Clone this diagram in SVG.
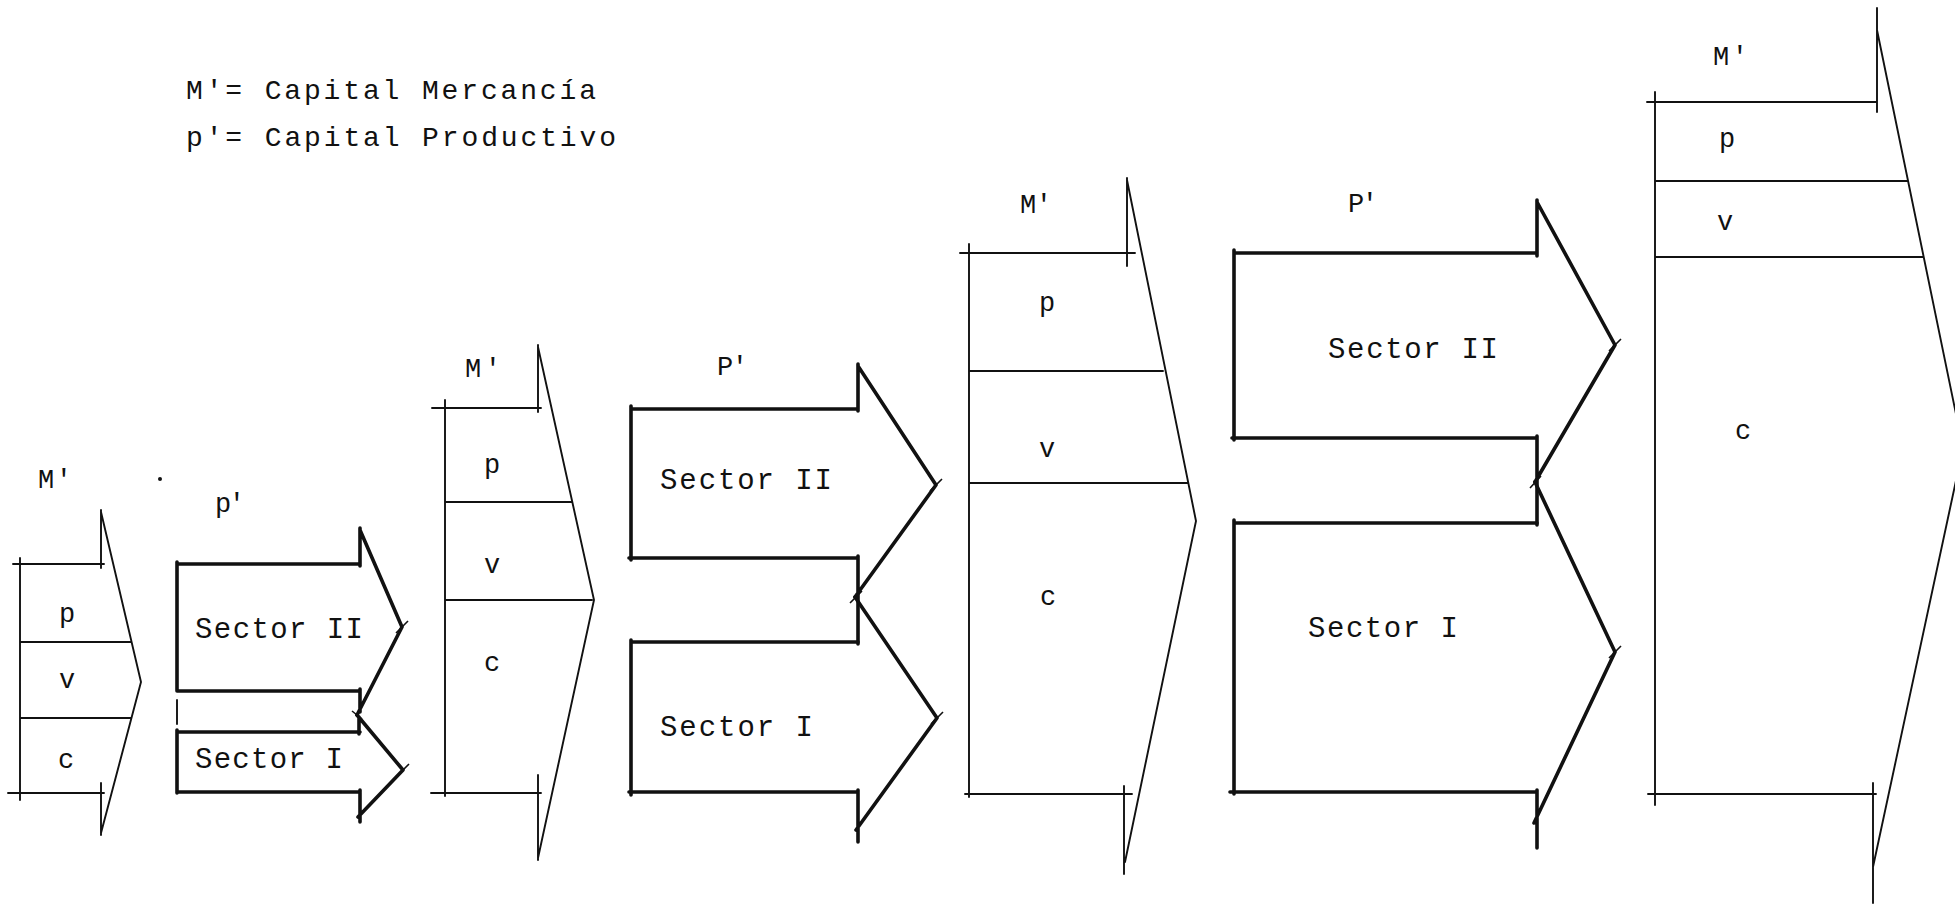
<svg xmlns="http://www.w3.org/2000/svg" width="1955" height="906" viewBox="0 0 1955 906">
<style>
.m{stroke:#111;stroke-width:1.9;fill:none;stroke-linecap:round}
.pa{stroke:#111;stroke-width:3.6;fill:none;stroke-linecap:round;stroke-linejoin:round}
.tk{stroke:#111;stroke-width:1.6;fill:none}
.t{font-family:"Liberation Mono","Courier New",monospace;fill:#111}
.lg{font-size:28px}
.lb{font-size:27px}
.sc{font-size:29px}
</style>
<rect x="0" y="0" width="1955" height="906" fill="#fff"/>

<g id="legend">
<text class="t lg" x="186" y="99" textLength="410" lengthAdjust="spacing">M'= Capital Mercancía</text>
<text class="t lg" x="186" y="146" textLength="430" lengthAdjust="spacing">p'= Capital Productivo</text>
</g>

<g id="stray-dot"><circle cx="160" cy="479" r="2" fill="#111"/></g>

<!-- Stage 1 -->
<g id="m1">
<text class="t lb" x="38" y="488" textLength="34" lengthAdjust="spacing">M'</text>
<path class="m" d="M20,558 V800 M13,564 H104 M101,510 V568 M101,512 L141,682 L101,833 M8,793 H104 M101,783 V835 M20,642 H131 M20,718 H131"/>
<text class="t lb" x="67" y="622" text-anchor="middle">p</text>
<text class="t lb" x="67" y="688" text-anchor="middle">v</text>
<text class="t lb" x="66" y="768" text-anchor="middle">c</text>
</g>
<g id="p1-label"><text class="t lb" x="215" y="512" textLength="30" lengthAdjust="spacing">p'</text></g>
<g id="p1-sector2">
<path class="pa" d="M177,564 H360 M177,562 V691 M177,691 H360 M360,528 V566 M360,530 L402,627 L357,715 M360,689 V712"/>
<path class="tk" d="M396,633 L408,621"/>
<text class="t sc" x="195" y="638" textLength="168" lengthAdjust="spacing">Sector II</text>
</g>
<g id="p1-sector1">
<path class="pa" d="M177,732 H360 M177,730 V793 M177,792 H360 M359,717 V734 M360,790 V822 M357,715 L403,770 L358,817"/>
<path class="m" d="M177,700 V724"/>
<path class="tk" d="M397,776 L409,764 M352,711 L362,719"/>
<text class="t sc" x="195" y="768" textLength="148" lengthAdjust="spacing">Sector I</text>
</g>

<!-- Stage 2 -->
<g id="m2">
<text class="t lb" x="465" y="377" textLength="36" lengthAdjust="spacing">M'</text>
<path class="m" d="M445,400 V796 M432,408 H541 M538,345 V412 M538,347 L594,600 L538,858 M431,793 H541 M538,775 V860 M445,502 H572 M445,600 H592"/>
<text class="t lb" x="492" y="473" text-anchor="middle">p</text>
<text class="t lb" x="492" y="573" text-anchor="middle">v</text>
<text class="t lb" x="492" y="671" text-anchor="middle">c</text>
</g>
<g id="p2-label"><text class="t lb" x="717" y="375" textLength="31" lengthAdjust="spacing">P'</text></g>
<g id="p2-sector2">
<path class="pa" d="M631,409 H858 M631,406 V560 M629,558 H858 M858,364 V411 M858,366 L936,485 L855,597 M858,556 V644"/>
<path class="tk" d="M930,491 L942,479 M850,603 L862,591"/>
<text class="t sc" x="660" y="489" textLength="172" lengthAdjust="spacing">Sector II</text>
</g>
<g id="p2-sector1">
<path class="pa" d="M631,642 H858 M631,640 V795 M629,792 H858 M855,597 L937,718 L856,830 M858,790 V842"/>
<path class="tk" d="M931,724 L943,712"/>
<text class="t sc" x="660" y="736" textLength="153" lengthAdjust="spacing">Sector I</text>
</g>

<!-- Stage 3 -->
<g id="m3">
<text class="t lb" x="1020" y="213" textLength="32" lengthAdjust="spacing">M'</text>
<path class="m" d="M969,244 V797 M960,253 H1135 M1127,178 V266 M1127,180 L1196,521 L1125,862 M965,794 H1132 M1124,786 V874 M969,371 H1163 M969,483 H1187"/>
<text class="t lb" x="1047" y="311" text-anchor="middle">p</text>
<text class="t lb" x="1047" y="457" text-anchor="middle">v</text>
<text class="t lb" x="1048" y="605" text-anchor="middle">c</text>
</g>
<g id="p3-label"><text class="t lb" x="1348" y="212" textLength="30" lengthAdjust="spacing">P'</text></g>
<g id="p3-sector2">
<path class="pa" d="M1234,253 H1537 M1234,250 V440 M1232,438 H1537 M1537,200 V256 M1537,202 L1615,345 L1535,482 M1537,436 V525"/>
<path class="tk" d="M1609,351 L1621,339 M1530,488 L1541,476"/>
<text class="t sc" x="1328" y="358" textLength="170" lengthAdjust="spacing">Sector II</text>
</g>
<g id="p3-sector1">
<path class="pa" d="M1234,523 H1537 M1234,520 V794 M1230,792 H1537 M1535,482 L1615,652 L1534,823 M1537,790 V848"/>
<path class="tk" d="M1609,658 L1621,646"/>
<text class="t sc" x="1308" y="637" textLength="150" lengthAdjust="spacing">Sector I</text>
</g>

<!-- Stage 4 -->
<g id="m4">
<text class="t lb" x="1713" y="65" textLength="35" lengthAdjust="spacing">M'</text>
<path class="m" d="M1655,92 V805 M1647,102 H1876 M1877,8 V112 M1877,30 L1963,448 L1873,867 M1648,794 H1876 M1873,783 V903 M1655,181 H1908 M1655,257 H1923"/>
<text class="t lb" x="1727" y="147" text-anchor="middle">p</text>
<text class="t lb" x="1725" y="230" text-anchor="middle">v</text>
<text class="t lb" x="1743" y="439" text-anchor="middle">c</text>
</g>
<g id="connectors"></g>
</svg>
